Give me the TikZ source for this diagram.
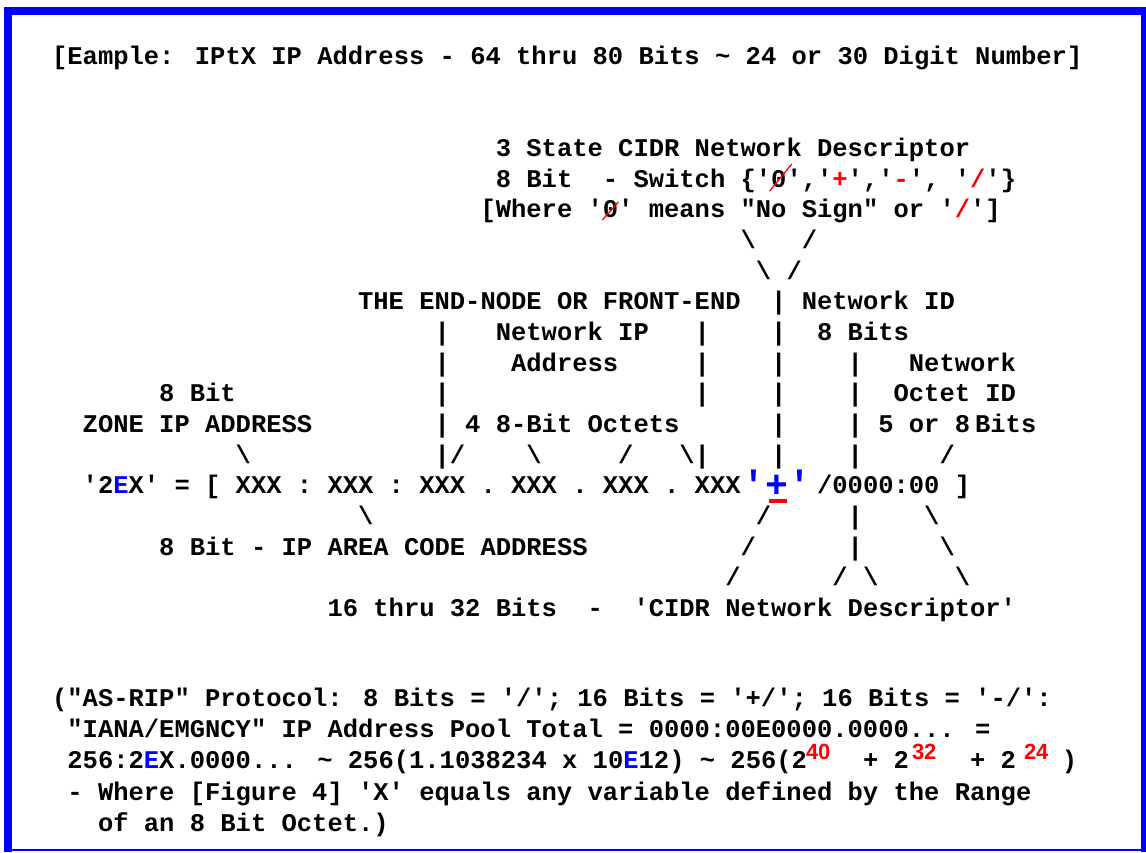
\documentclass[tikz,border=0pt]{standalone}
\usepackage{fontspec}
\newfontfamily\mono{Liberation Mono}
\newfontfamily\supf{Liberation Sans}
\definecolor{fblue}{RGB}{0,0,255}
\definecolor{fred}{RGB}{255,0,0}
\newcommand\q{\textquotesingle}
\newcommand\bs{\textbackslash}
\newcommand\R[1]{\textcolor{fred}{#1}}
\newcommand\B[1]{\textcolor{fblue}{#1}}
\tikzset{
  txt/.style={anchor=base west, inner sep=0pt, outer sep=0pt, font=\mono\bfseries\fontsize{25.5}{26}\selectfont},
  big/.style={txt, text=fblue, font=\mono\bfseries\fontsize{38}{38}\selectfont},
  sup/.style={anchor=base west, inner sep=0pt, outer sep=0pt, text=fred, font=\supf\bfseries\fontsize{22}{22}\selectfont},
  slashmark/.style={draw=fred, line width=1.3pt},
  framefill/.style={fill=fblue}
}
\newcommand\T[4]{\node[txt] (#1) at ({82.7+15.3*(#2)},{156.5+30.67*(#3)}) {#4};}
\newcommand\TY[4]{\node[txt] (#1) at ({82.7+15.3*(#2)},#3) {#4};}
\begin{document}
\begin{tikzpicture}[x=1pt,y=-1pt]
\useasboundingbox (0,0) rectangle (1146,852);
\fill[white] (0,0) rectangle (1146,852);
% frame
\fill[framefill] (4,7) rectangle (1146,15);
\fill[framefill] (4,7) rectangle (12,852);
\fill[framefill] (1141,7) rectangle (1146,852);
\fill[framefill] (4,849) rectangle (1146,851);
% title
\TY{title}{-2}{64.5}{[Eample: IPtX IP Address - 64 thru 80 Bits \textasciitilde{} 24 or 30 Digit Number]}
% rows
\T{r0}{27}{0}{3 State CIDR Network Descriptor}
\T{r1a}{27}{1}{8 Bit}
\T{r1b}{34}{1}{-}
\T{r1c}{36}{1}{Switch \{\q0\q,\q\R{+}\q,\q\R{-}\q, \q\R{/}\q\}}
\T{r2}{26}{2}{[Where \q0\q{} means "No Sign" or \q\R{/}\q]}
\draw[slashmark] (769.6,191) -- (791.8,164);
\draw[slashmark] (602.3,220) -- (618.4,202);
\T{r3a}{43}{3}{\bs} \T{r3b}{47}{3}{/}
\T{r4a}{44}{4}{\bs} \T{r4b}{46}{4}{/}
\T{r5a}{18}{5}{THE END-NODE OR FRONT-END} \T{r5b}{45}{5}{| Network ID}
\T{r6a}{23}{6}{|} \T{r6b}{27}{6}{Network IP} \T{r6c}{40}{6}{|} \T{r6d}{45}{6}{|} \T{r6e}{48}{6}{8 Bits}
\T{r7a}{23}{7}{|} \T{r7b}{28}{7}{Address} \T{r7c}{40}{7}{|} \T{r7d}{45}{7}{|} \T{r7e}{50}{7}{|} \T{r7f}{54}{7}{Network}
\T{r8a}{5}{8}{8 Bit} \T{r8b}{23}{8}{|} \T{r8c}{40}{8}{|} \T{r8d}{45}{8}{|} \T{r8e}{50}{8}{|} \T{r8f}{53}{8}{Octet ID}
\T{r9a}{0}{9}{ZONE IP ADDRESS} \T{r9b}{23}{9}{| 4 8-Bit Octets} \T{r9c}{45}{9}{|} \T{r9d}{50}{9}{|} \T{r9e}{52}{9}{5 or 8\hspace{5pt}Bits}
\T{r10a}{10}{10}{\bs} \T{r10b}{23}{10}{|/} \T{r10c}{29}{10}{\bs} \T{r10d}{35}{10}{/} \T{r10e}{39}{10}{\bs|} \T{r10f}{45}{10}{|} \T{r10g}{50}{10}{|} \T{r10h}{56}{10}{/}
\T{r11a}{0}{11}{\q2\B{E}X\q{} = [ XXX : XXX : XXX . XXX . XXX . XXX}
\node[big] (plus) at (742.8,497) {\q+\q};
\fill[fred] (769,499) rectangle (787,503);
\T{r11c}{48}{11}{/0000:00 ]}
\T{r12a}{18}{12}{\bs} \T{r12b}{44}{12}{/} \T{r12c}{50}{12}{|} \T{r12d}{55}{12}{\bs}
\T{r13a}{5}{13}{8 Bit - IP AREA CODE ADDRESS} \T{r13b}{43}{13}{/} \T{r13c}{50}{13}{|} \T{r13d}{56}{13}{\bs}
\T{r14a}{42}{14}{/} \T{r14b}{49}{14}{/ \bs} \T{r14c}{57}{14}{\bs}
\T{r15a}{16}{15}{16 thru 32 Bits} \T{r15b}{33}{15}{-} \T{r15c}{36}{15}{\q CIDR Network Descriptor\q}
% bottom note
\TY{L1}{-2}{706.5}{("AS-RIP" Protocol: 8 Bits = \q/\q; 16 Bits = \q+/\q; 16 Bits = \q-/\q:}
\TY{L2}{-1}{737.5}{"IANA/EMGNCY" IP Address Pool Total = 0000:00E0000.0000... =}
\TY{L3a}{-1}{768.5}{256:2\B{E}X.0000... \textasciitilde{} 256(1.1038234 x 10\B{E}12) \textasciitilde{} 256(2}
\node[sup] (s40) at (806,759.5) {40};
\TY{L3b}{51}{768.5}{+ 2}
\node[sup] (s32) at (912,759.5) {32};
\TY{L3c}{58}{768.5}{+ 2}
\node[sup] (s24) at (1024,759.5) {24};
\TY{L3d}{64}{768.5}{)}
\TY{L4}{-1}{800.5}{- Where [Figure 4] \q X\q{} equals any variable defined by the Range}
\TY{L5}{1}{831.5}{of an 8 Bit Octet.)}
\end{tikzpicture}
\end{document}
